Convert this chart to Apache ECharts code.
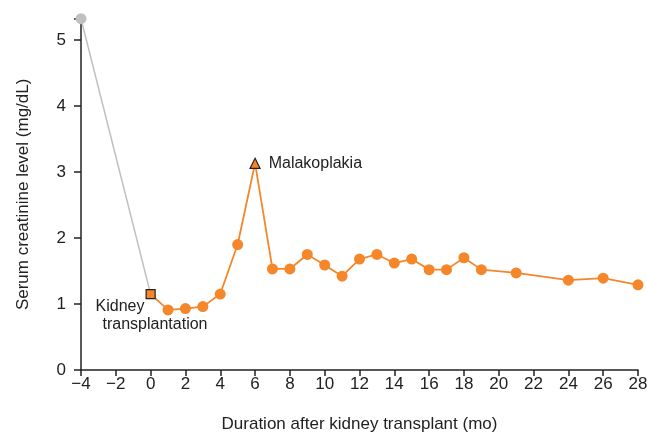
<!DOCTYPE html>
<html>
<head>
<meta charset="utf-8">
<script src="https://cdn.jsdelivr.net/npm/echarts@6/dist/echarts.min.js"></script>
<style>html,body{margin:0;padding:0;background:#fff}#c{width:647px;height:436px}</style>
</head>
<body>
<div id="c"></div>
<script>
var preMonths = [-4, 0];
var preValues = [5.32, 1.15];
var postMonths = [0, 1, 2, 3, 4, 5, 6, 7, 8, 9, 10, 11, 12, 13, 14, 15, 16, 17, 18, 19, 21, 24, 26, 28];
var postValues = [1.15, 0.91, 0.93, 0.96, 1.15, 1.90, 3.13, 1.53, 1.53, 1.75, 1.59, 1.42, 1.68, 1.75, 1.62, 1.68, 1.52, 1.52, 1.70, 1.52, 1.47, 1.36, 1.39, 1.29];
var xTicks = [-4, -2, 0, 2, 4, 6, 8, 10, 12, 14, 16, 18, 20, 22, 24, 26, 28];
var yTicks = [0, 1, 2, 3, 4, 5];
var yMax = 5.32;

var orange = '#F5862A';
var grey = '#C0C0C2';
var font = 'Liberation Sans, Arial, sans-serif';

var postData = postMonths.map(function (m, i) {
  var item = { value: [m, postValues[i]] };
  if (i === 0) {
    item.symbol = 'rect';
    item.symbolSize = 9;
    item.itemStyle = { color: orange, borderColor: '#222', borderWidth: 1.2 };
    item.label = {
      show: true,
      position: [-50, 9],
      align: 'left',
      verticalAlign: 'top',
      formatter: '{a|Kidney}\n{b|transplantation}',
      rich: {
        a: { fontSize: 16, lineHeight: 18, color: '#222', fontFamily: font },
        b: { fontSize: 16, lineHeight: 18, color: '#222', fontFamily: font, padding: [0, 0, 0, 7] }
      }
    };
  } else if (m === 6) {
    item.symbol = 'triangle';
    item.symbolSize = 10;
    item.itemStyle = { color: orange, borderColor: '#222', borderWidth: 1.2 };
    item.label = {
      show: true,
      position: 'right',
      distance: 8,
      formatter: 'Malakoplakia',
      fontSize: 16,
      color: '#222',
      fontFamily: font
    };
  }
  return item;
});

var chart = echarts.init(document.getElementById('c'));
chart.setOption({
  animation: false,
  grid: { left: 81, right: 9, top: 18.7, bottom: 66, outerBoundsMode: 'none', containLabel: false },
  xAxis: {
    type: 'value',
    min: xTicks[0],
    max: xTicks[xTicks.length - 1],
    interval: 2,
    name: 'Duration after kidney transplant (mo)',
    nameLocation: 'middle',
    nameGap: 46,
    nameTextStyle: { fontSize: 17, color: '#222', fontFamily: font },
    axisLine: { onZero: false, lineStyle: { color: '#222', width: 1.5 } },
    axisTick: { length: 6, lineStyle: { color: '#222', width: 1.5 } },
    axisLabel: {
      fontSize: 17, color: '#222', fontFamily: font, margin: 6,
      formatter: function (v) { return String(v).replace('-', '\u2212'); }
    },
    splitLine: { show: false }
  },
  yAxis: {
    type: 'value',
    min: yTicks[0],
    max: yMax,
    interval: 1,
    name: 'Serum creatinine level (mg/dL)',
    nameLocation: 'middle',
    nameGap: 49,
    nameTextStyle: { fontSize: 17, color: '#222', fontFamily: font },
    axisLine: { show: true, onZero: false, lineStyle: { color: '#222', width: 1.5 } },
    axisTick: { show: true, length: 7, lineStyle: { color: '#222', width: 1.5 } },
    axisLabel: {
      fontSize: 17, color: '#222', fontFamily: font, margin: 15, showMaxLabel: true,
      formatter: function (v) { return yTicks.indexOf(v) >= 0 ? String(v) : ''; }
    },
    splitLine: { show: false }
  },
  series: [
    {
      type: 'line',
      data: preMonths.map(function (m, i) { return [m, preValues[i]]; }),
      lineStyle: { color: grey, width: 1.5 },
      itemStyle: { color: grey },
      symbol: 'circle',
      symbolSize: function (v) { return v[0] === 0 ? 0 : 11; },
      z: 1
    },
    {
      type: 'line',
      data: postData,
      lineStyle: { color: orange, width: 1.8 },
      itemStyle: { color: orange },
      symbol: 'circle',
      symbolSize: 11,
      z: 2
    }
  ]
});
</script>
</body>
</html>
